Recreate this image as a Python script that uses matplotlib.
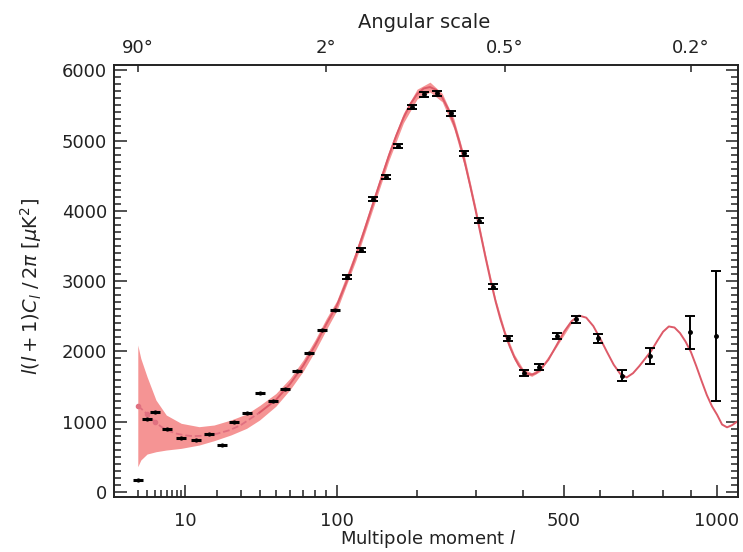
import numpy as np
import matplotlib
matplotlib.use("Agg")
import matplotlib.pyplot as plt
from matplotlib.ticker import FixedLocator, MultipleLocator, NullFormatter

# best fit model curve (l, l(l+1)C_l/2pi)
ell_model = [2, 3, 4, 5, 6, 8, 10, 12, 15, 20, 25, 30, 40, 50, 60, 70, 80, 90, 100, 110,
             120, 130, 140, 150, 160, 170, 180, 190, 200, 210, 220, 230, 240, 250, 260, 270,
             280, 290, 300, 310, 320, 330, 340, 350, 360, 370, 380, 390, 400, 410, 420, 430,
             440, 460, 480, 500, 520, 540, 560, 580, 600, 620, 640, 660, 680, 700, 720, 740,
             760, 780, 800, 820, 840, 860, 880, 900, 920, 940, 960, 980, 1000, 1020, 1040,
             1060, 1085]
dl_model = [1230, 1110, 1000, 930, 880, 830, 805, 795, 800, 830, 880, 950, 1130, 1310, 1540,
            1800, 2090, 2390, 2650, 2990, 3360, 3730, 4100, 4450, 4780, 5070, 5320, 5520,
            5660, 5740, 5760, 5720, 5610, 5450, 5240, 4980, 4680, 4350, 4010, 3660, 3320,
            3000, 2710, 2460, 2250, 2070, 1920, 1800, 1720, 1680, 1670, 1690, 1740, 1880,
            2080, 2280, 2430, 2510, 2480, 2360, 2180, 1990, 1810, 1680, 1630, 1690, 1790,
            1900, 2010, 2150, 2280, 2355, 2340, 2260, 2140, 1990, 1790, 1580, 1380, 1220,
            1100, 960, 920, 950, 1010]

# shaded cosmic variance band
ell_band = [2, 2.3, 3, 4.2, 5.9, 9, 13.8, 18.8, 25.5, 33, 40, 50, 60, 70, 80, 90, 100, 120,
            140, 160, 180, 200, 220, 240, 260, 280, 300, 320, 340, 360, 380, 400, 420, 440,
            480, 520]
band_lo = [360, 455, 540, 573, 597, 621, 668, 730, 811, 906, 1024, 1220, 1460, 1720, 2010,
           2310, 2580, 3290, 4030, 4710, 5250, 5590, 5690, 5550, 5170, 4610, 3950, 3270,
           2670, 2210, 1880, 1690, 1645, 1715, 2060, 2405]
band_hi = [2090, 1900, 1640, 1308, 1095, 977, 929, 953, 1024, 1110, 1230, 1400, 1620, 1880,
           2170, 2470, 2720, 3430, 4170, 4850, 5390, 5730, 5830, 5670, 5310, 4750, 4070,
           3370, 2750, 2290, 1960, 1750, 1695, 1765, 2100, 2455]

# binned data, low l (no error bars)
ell_lo = [2, 3, 4, 6, 9, 13, 17, 22, 27, 33, 40, 48, 56, 65, 75, 86, 98]
dl_lo = [175, 1034, 1142, 896, 763, 739, 820, 668, 991, 1123, 1403, 1290, 1460, 1721, 1972,
         2299, 2584]

# binned data with error bars
ell_hi = [111, 126, 140, 157, 173, 193, 211, 231, 255, 279, 307, 334, 366, 401, 438, 481,
          531, 592, 665, 756, 897, 995]
dl_hi = [3057, 3441, 4166, 4484, 4920, 5479, 5655, 5669, 5385, 4816, 3858, 2920, 2186,
         1697, 1782, 2218, 2456, 2186, 1654, 1934, 2271, 2218]
err_hi = [30, 30, 30, 30, 30, 30, 30, 30, 30, 30, 35, 35, 40, 40, 40, 45, 50, 60, 75, 120,
          235, 930]

# top axis
top_ell = [2, 90, 360, 900]
top_labels = ['90°', '2°', '0.5°', '0.2°']

def fwd(x):
    x = np.asarray(x, dtype=float)
    return np.sign(x) * np.abs(x) ** 0.4

def inv(x):
    x = np.asarray(x, dtype=float)
    return np.sign(x) * np.abs(x) ** 2.5

band_col = '#f59494'
line_col = '#dd5a68'
txt_col = '#222222'

fig = plt.figure(figsize=(7.43, 5.52), dpi=100)
ax = fig.add_axes([114/743, 1-497/552, 624/743, 432/552])
ax.set_xscale('function', functions=(fwd, inv))

ax.fill_between(ell_band, band_lo, band_hi, color=band_col, lw=0, zorder=1)
n_dash = 12
ax.plot(ell_model[:n_dash+1], dl_model[:n_dash+1], ls='--', color='#e07080', lw=1.3, zorder=2)
ax.plot(ell_model[n_dash:], dl_model[n_dash:], color=line_col, lw=1.4, zorder=2)
ax.plot(ell_model[:3], dl_model[:3], 'o', color='#e07080', ms=3, zorder=2)

ax.plot(ell_lo, dl_lo, '_', color='k', ms=7, mew=2.2, zorder=3)
ax.plot(ell_lo, dl_lo, 'o', color='k', ms=2, zorder=3)
ax.errorbar(ell_hi, dl_hi, yerr=err_hi, fmt='o', color='k', ms=2.5, elinewidth=1.4,
            capsize=3.5, capthick=1.4, zorder=3)

ax.set_xlim(0.444, 1085)
ax.set_ylim(-71, 6074)

ax.xaxis.set_major_locator(FixedLocator([10, 100, 500, 1000]))
ax.xaxis.set_minor_locator(FixedLocator([2, 3, 4, 5, 6, 7, 8, 9, 20, 30, 40, 50, 60, 70, 80,
                                         90, 200, 300, 400, 600, 700, 800, 900]))
ax.xaxis.set_minor_formatter(NullFormatter())
ax.set_xticklabels(['10', '100', '500', '1000'])
ax.yaxis.set_major_locator(MultipleLocator(1000))
ax.yaxis.set_minor_locator(MultipleLocator(100))

ax.tick_params(which='both', direction='in', top=False, right=True, colors=txt_col,
               labelsize=13, width=1.1)
ax.tick_params(axis='y', which='major', length=9, pad=5)
ax.tick_params(axis='y', which='minor', length=5)
ax.tick_params(axis='x', which='major', length=9, pad=11)
ax.tick_params(axis='x', which='minor', length=5)
for s in ax.spines.values():
    s.set_linewidth(1.2)
    s.set_color(txt_col)

ax2 = ax.twiny()
ax2.set_xscale('function', functions=(fwd, inv))
ax2.set_xlim(ax.get_xlim())
ax2.xaxis.set_major_locator(FixedLocator(top_ell))
ax2.xaxis.set_minor_locator(FixedLocator([]))
ax2.set_xticklabels(top_labels)
ax2.tick_params(direction='in', length=5, width=1.1, pad=6, labelsize=13, colors=txt_col)
for s in ax2.spines.values():
    s.set_linewidth(1.2)
    s.set_color(txt_col)

fig.text(424/743, 1-22/552, 'Angular scale', ha='center', va='center', fontsize=14,
         color=txt_col)
fig.text(428/743, 1-539/552, r'Multipole moment $l$', ha='center', va='center', fontsize=13,
         color=txt_col)
fig.text(31/743, 1-286/552, r'$l(l+1)C_l\ /\,2\pi\ [\mu\mathrm{K}^2]$', ha='center',
         va='center', rotation=90, fontsize=14, color=txt_col)

fig.savefig('out.png', dpi=100)
